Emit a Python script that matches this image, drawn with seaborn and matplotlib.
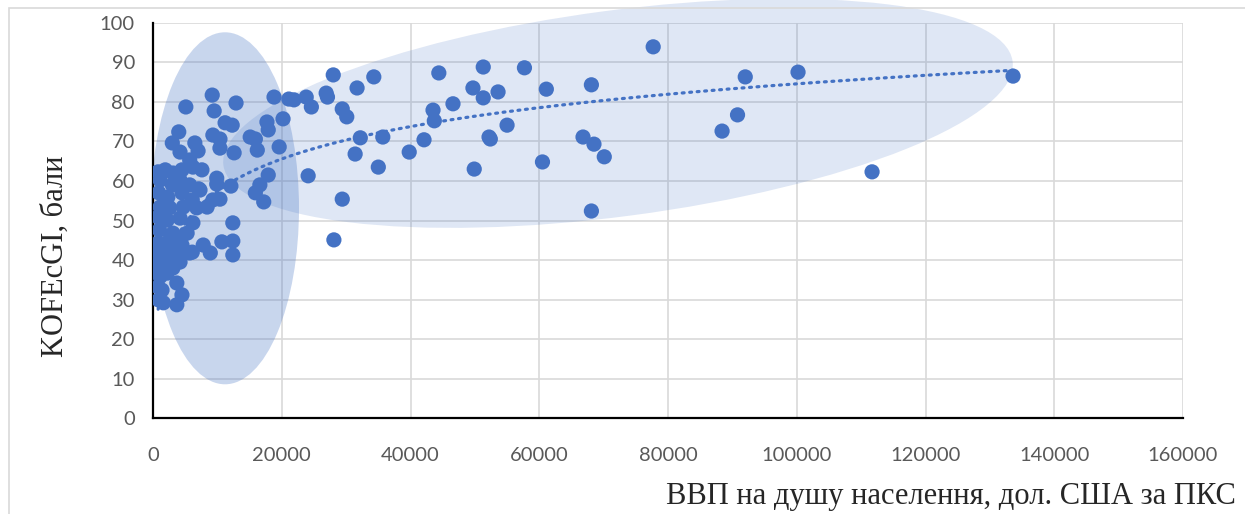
"""Діаграма розсіювання: KOFEcGI vs ВВП на душу населення (ПКС)."""
import numpy as np
import pandas as pd
import matplotlib.pyplot as plt
import seaborn as sns
from matplotlib.patches import Ellipse, Rectangle
from matplotlib.transforms import Affine2D

# ВВП на душу населення, дол. США за ПКС
gdp_pc = [
    23800, 24600, 26900, 27100, 28000, 29400, 30100, 31700, 34300, 32200,
    35700, 31400, 35000, 24100, 29400, 28100, 39800, 42100, 43500, 43700,
    44400, 46600, 49700, 51300, 51300, 53600, 57700, 55000, 52200, 52400,
    49900, 61100, 60500, 68100, 66800, 68500, 70100, 68100, 77700, 88400,
    90800, 92000, 100200, 111700, 133600,
    11200, 12300, 12600, 15100, 15900, 17700, 17900, 20200, 16200, 19600,
    17900, 16600, 15900, 17200, 9900, 9900, 12100, 7100, 10400, 9300,
    12400, 10700, 12400, 7800, 6100, 8900, 12400, 18800, 21100, 21900,
    10400,
    5100, 9200, 9500, 12900, 4000, 3000, 6500, 9300, 10400, 4200,
    7000, 5700, 6200, 7600, 800, 1900, 3100, 4500, 1100, 3000,
    4200, 5700, 7300, 900, 2300, 4500, 6100, 1100, 2600, 4700,
    6800, 8400, 800, 2200, 4200, 6200, 1000, 3100, 5300, 800,
    2600, 4500, 1100, 3700, 5700, 2600, 4200, 800, 1600, 3100,
    800, 1000, 2600, 4200, 3100, 800, 1100, 2200, 800, 1400,
    3700, 4500, 900, 1600, 3700,
]
# Індекс економічної глобалізації KOFEcGI, бали
kof_ecgi = [
    81.2, 78.7, 82.2, 81.2, 86.8, 78.2, 76.2, 83.5, 86.3, 70.9,
    71.1, 66.8, 63.5, 61.3, 55.4, 45.1, 67.3, 70.4, 77.9, 75.2,
    87.3, 79.5, 83.5, 88.8, 81.0, 82.5, 88.6, 74.1, 71.1, 70.6,
    63.0, 83.2, 64.8, 84.3, 71.1, 69.3, 66.1, 52.4, 93.9, 72.6,
    76.7, 86.3, 87.5, 62.3, 86.5,
    74.7, 74.1, 67.1, 71.1, 70.6, 74.9, 72.9, 75.7, 67.8, 68.6,
    61.5, 59.0, 57.0, 54.7, 60.7, 59.2, 58.7, 58.0, 55.4, 55.2,
    49.4, 44.6, 44.8, 43.8, 42.0, 41.8, 41.3, 81.2, 80.7, 80.5,
    68.3,
    78.7, 81.7, 77.7, 79.7, 72.4, 69.6, 69.6, 71.6, 70.6, 67.3,
    67.6, 65.3, 63.5, 62.8, 62.3, 62.8, 62.0, 62.8, 60.2, 59.0,
    60.2, 59.0, 57.7, 57.0, 55.9, 57.0, 55.2, 53.4, 53.2, 53.4,
    53.2, 53.4, 50.9, 50.1, 50.6, 49.4, 47.6, 46.8, 46.8, 44.3,
    44.3, 43.8, 41.3, 40.8, 41.8, 45.1, 45.1, 42.5, 41.8, 42.5,
    39.3, 38.2, 39.3, 39.5, 38.0, 36.7, 35.8, 36.7, 33.2, 32.4,
    34.2, 31.2, 29.9, 29.2, 28.7,
]
x_ticks = [0, 20000, 40000, 60000, 80000, 100000, 120000, 140000, 160000]
y_ticks = [0, 10, 20, 30, 40, 50, 60, 70, 80, 90, 100]

# логарифмічний тренд: y = a*ln(x) + b
trend_a = 11.8
trend_b = -51.3

df = pd.DataFrame({'gdp': gdp_pc, 'kof': kof_ecgi})

sns.set_style('white')
plt.rcParams['font.family'] = ['Lato', 'DejaVu Sans']

W, H = 1245, 514
fig = plt.figure(figsize=(W / 100, H / 100), dpi=100)
left, right, bottom, top = 153 / W, 1183 / W, 1 - 418.3 / H, 1 - 22.7 / H
ax = fig.add_axes([left, bottom, right - left, top - bottom])

blue = '#4472C4'

# рамка діаграми
fig.add_artist(Rectangle((9 / W, -0.1), 1.2, 1.1 - 8.5 / H, transform=fig.transFigure,
                         fill=False, edgecolor='#d9d9d9', lw=1.2))

# еліпси (в пікселях відносно осей)
ax_w, ax_h = (right - left) * W, (top - bottom) * H
px = Affine2D().scale(160000 / ax_w, 100 / ax_h) + ax.transData
clip = Rectangle((0, 0), 1, 1 - 9.5 / H, transform=fig.transFigure, visible=False)
fig.add_artist(clip)
ell1 = Ellipse((72, 210), 148, 352, transform=px, facecolor=blue, alpha=0.29,
               lw=0, zorder=1, clip_on=False)
ell2 = Ellipse((465, 305), 796, 206, angle=7.5, transform=px, facecolor=blue,
               alpha=0.17, lw=0, zorder=1, clip_on=False)
for e in (ell1, ell2):
    ax.add_patch(e)
    e.set_clip_path(clip)

sns.scatterplot(data=df, x='gdp', y='kof', ax=ax, color=blue, s=120,
                edgecolor='none', zorder=3)

xt = np.linspace(df['gdp'].min(), df['gdp'].max(), 400)
ax.plot(xt, trend_a * np.log(xt) + trend_b, color=blue, lw=2.3, ls=(0, (0.6, 1.75)),
        dash_capstyle='round', zorder=2)

ax.set_xlim(0, 160000)
ax.set_ylim(0, 100)
ax.set_xticks(x_ticks)
ax.set_yticks(y_ticks)
ax.grid(True, color='#d9d9d9', lw=1.2, zorder=0)
ax.set_axisbelow(True)
for s in ['top', 'right']:
    ax.spines[s].set_visible(False)
for s in ['left', 'bottom']:
    ax.spines[s].set_color('black')
    ax.spines[s].set_linewidth(1.6)
ax.tick_params(axis='both', length=0, labelsize=14.5, labelcolor='#595959')
ax.tick_params(axis='x', pad=21)
ax.tick_params(axis='y', pad=13)
ax.set_xlabel('')
ax.set_ylabel('')

fig.text(55 / W, 1 - 256 / H, 'KOFEcGI, бали', rotation=90, ha='center', va='center',
         family='Liberation Serif', fontsize=22)
fig.text(1236 / W, 1 - 504 / H, 'ВВП на душу населення, дол. США за ПКС', ha='right',
         va='baseline', family='Liberation Serif', fontsize=22)

fig.savefig('out.png', dpi=100)
